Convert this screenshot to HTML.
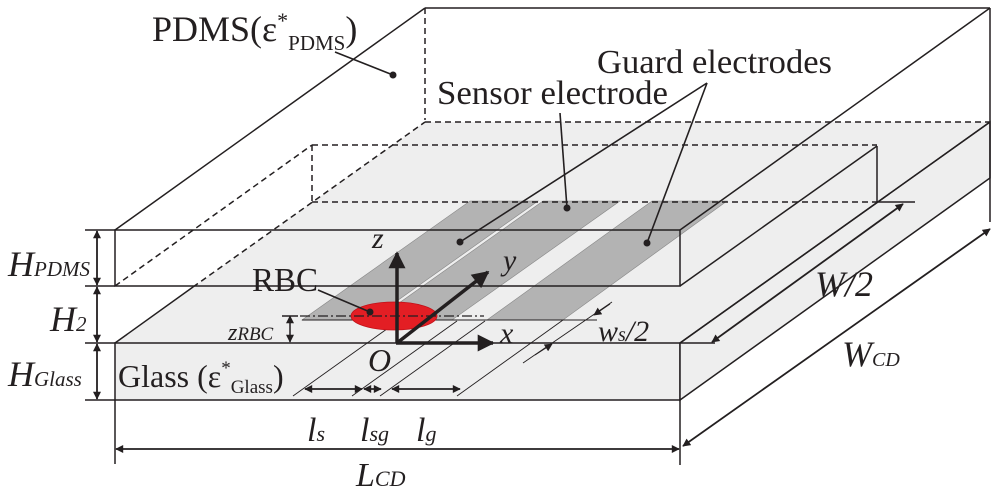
<!DOCTYPE html>
<html><head><meta charset="utf-8"><style>
html,body{margin:0;padding:0;background:#fff;}
svg{display:block;}
text{font-family:"Liberation Serif",serif;fill:#231f20;}
.i{font-style:italic;}
</style></head><body>
<svg width="1000" height="487" viewBox="0 0 1000 487" xmlns="http://www.w3.org/2000/svg">
<defs>
<marker id="a" viewBox="0 0 10 10" refX="9" refY="5" markerWidth="11" markerHeight="8" orient="auto-start-reverse" markerUnits="userSpaceOnUse"><path d="M0,0 L10,5 L0,10 z" fill="#231f20"/></marker>
<marker id="b" viewBox="0 0 10 10" refX="9" refY="5" markerWidth="20" markerHeight="17" orient="auto" markerUnits="userSpaceOnUse"><path d="M0,0 L10,5 L0,10 z" fill="#231f20"/></marker>
</defs>
<g stroke="#231f20" stroke-width="1.5" fill="none">
<polygon points="115,343 680,343 990,122 425,122" fill="#eeeeee" stroke="none"/>
<rect x="115" y="343" width="565" height="57" fill="#eeeeee"/>
<polygon points="680,343 990,122 990,178 680,400" fill="#eeeeee"/>
<polygon points="302,320 370,320 538,201 470,201" fill="#b3b3b3" stroke="#888" stroke-width="0.6"/>
<polygon points="375,320 452,320 620,201 543,201" fill="#b3b3b3" stroke="#888" stroke-width="0.6"/>
<polygon points="487,320 563,320 727,201 652,201" fill="#b3b3b3" stroke="#888" stroke-width="0.6"/>
<line x1="115" y1="343" x2="193" y2="287"/>
<line x1="193" y1="287" x2="425" y2="122" stroke-dasharray="6,4"/>
<line x1="425" y1="122" x2="990" y2="122" stroke-dasharray="6,4"/>
<line x1="115" y1="230" x2="425" y2="8"/>
<line x1="425" y1="8" x2="990" y2="8"/>
<line x1="425" y1="8" x2="425" y2="120" stroke-dasharray="6,4"/>
<line x1="990" y1="8" x2="990" y2="222"/>
<line x1="680" y1="230" x2="990" y2="8"/>
<rect x="115" y="230" width="565" height="56"/>
<line x1="115" y1="286" x2="312" y2="145" stroke-dasharray="6,4"/>
<line x1="312" y1="145" x2="877" y2="145" stroke-dasharray="6,4"/>
<line x1="312" y1="145" x2="312" y2="202" stroke-dasharray="6,4"/>
<line x1="312" y1="202" x2="877" y2="202" stroke-dasharray="6,4"/>
<line x1="680" y1="286" x2="877" y2="146"/>
<line x1="877" y1="146" x2="877" y2="202"/>
<line x1="877" y1="202" x2="915" y2="202"/>
<line x1="680" y1="343" x2="990" y2="122"/>
<line x1="680" y1="343" x2="715" y2="343"/>
<line x1="293" y1="396" x2="398" y2="321" stroke-width="0.9"/>
<line x1="352" y1="396" x2="457" y2="321" stroke-width="0.9"/>
<line x1="380" y1="396" x2="485" y2="321" stroke-width="0.9"/>
<line x1="457" y1="396" x2="563" y2="320" stroke-width="0.9"/>
<line x1="302" y1="320" x2="597" y2="320" stroke-width="0.9"/>
<line x1="523" y1="363" x2="612" y2="302" stroke-width="0.9"/>
<line x1="85" y1="230" x2="115" y2="230"/>
<line x1="85" y1="286" x2="115" y2="286"/>
<line x1="85" y1="343" x2="115" y2="343"/>
<line x1="85" y1="400" x2="115" y2="400"/>
<line x1="97" y1="231" x2="97" y2="285" stroke-width="1.8" marker-start="url(#a)" marker-end="url(#a)"/>
<line x1="97" y1="287" x2="97" y2="342" stroke-width="1.8" marker-start="url(#a)" marker-end="url(#a)"/>
<line x1="97" y1="344" x2="97" y2="399" stroke-width="1.8" marker-start="url(#a)" marker-end="url(#a)"/>
<line x1="290" y1="316" x2="290" y2="342" stroke-width="1.5" marker-start="url(#a)" marker-end="url(#a)"/>
<line x1="282" y1="316" x2="298" y2="316"/>
<line x1="115" y1="400" x2="115" y2="464"/>
<line x1="680" y1="400" x2="680" y2="465"/>
<line x1="116" y1="449" x2="679" y2="449" stroke-width="1.8" marker-start="url(#a)" marker-end="url(#a)"/>
<line x1="305" y1="389" x2="362" y2="389" stroke-width="1.8" marker-start="url(#a)" marker-end="url(#a)"/>
<line x1="364" y1="389" x2="381" y2="389" stroke-width="1.8" marker-start="url(#a)" marker-end="url(#a)"/>
<line x1="392" y1="389" x2="460" y2="389" stroke-width="1.8" marker-start="url(#a)" marker-end="url(#a)"/>
<line x1="712" y1="342" x2="903" y2="204" stroke-width="1.8" marker-start="url(#a)" marker-end="url(#a)"/>
<line x1="683" y1="446" x2="990" y2="229" stroke-width="1.8" marker-start="url(#a)" marker-end="url(#a)"/>
<line x1="535" y1="355" x2="552" y2="344" stroke-width="1" marker-end="url(#a)"/>
<line x1="610" y1="304" x2="594" y2="315" stroke-width="1" marker-end="url(#a)"/>
<ellipse cx="394" cy="316" rx="43" ry="14" fill="#e31e24" stroke="#c01018" stroke-width="0.8"/>
<line x1="300" y1="316" x2="484" y2="316" stroke-width="1.2" stroke-dasharray="10,3,2,3"/>
<line x1="397" y1="343" x2="397" y2="253" stroke-width="3.5" marker-end="url(#b)"/>
<line x1="396" y1="343" x2="493" y2="343" stroke-width="3.5" marker-end="url(#b)"/>
<line x1="397" y1="343" x2="488" y2="272" stroke-width="3.5" marker-end="url(#b)"/>
<line x1="335" y1="52" x2="393" y2="75" stroke-width="1.6"/>
<line x1="707" y1="83" x2="460" y2="242" stroke-width="1.6"/>
<line x1="707" y1="83" x2="647" y2="243" stroke-width="1.6"/>
<line x1="560" y1="113" x2="567" y2="208" stroke-width="1.6"/>
<line x1="318" y1="290" x2="370" y2="312" stroke-width="1.6"/>
</g>
<g fill="#231f20">
<circle cx="393" cy="75" r="3.5"/><circle cx="460" cy="242" r="3.5"/><circle cx="647" cy="243" r="3.5"/><circle cx="567" cy="208" r="3.5"/><circle cx="370" cy="312" r="3.5"/>
</g>
<text x="152" y="41" font-size="36">PDMS(ε<tspan font-size="22" dy="-13">*</tspan><tspan font-size="21" dy="22">PDMS</tspan><tspan dy="-9">)</tspan></text>
<text x="597" y="73" font-size="34" textLength="235" lengthAdjust="spacingAndGlyphs">Guard electrodes</text>
<text x="437" y="104" font-size="34" textLength="231" lengthAdjust="spacingAndGlyphs">Sensor electrode</text>
<text x="252" y="291" font-size="34" textLength="66" lengthAdjust="spacingAndGlyphs">RBC</text>
<text x="118" y="387" font-size="32">Glass (ε<tspan font-size="19" dy="-13">*</tspan><tspan font-size="19" dy="19">Glass</tspan><tspan dy="-6">)</tspan></text>
<text class="i" x="8" y="276" font-size="36">H<tspan font-size="21">PDMS</tspan></text>
<text class="i" x="50" y="331" font-size="36">H<tspan font-size="21">2</tspan></text>
<text class="i" x="8" y="386" font-size="36">H<tspan font-size="21">Glass</tspan></text>
<text class="i" x="228" y="340" font-size="24">z<tspan font-size="19">RBC</tspan></text>
<text class="i" x="372" y="248" font-size="30">z</text>
<text class="i" x="503" y="270" font-size="30">y</text>
<text class="i" x="500" y="343" font-size="30">x</text>
<text class="i" x="368" y="371" font-size="32">O</text>
<text class="i" x="598" y="341" font-size="30">w<tspan font-size="20">s</tspan>/2</text>
<text class="i" x="815" y="296" font-size="36">W/2</text>
<text class="i" x="842" y="366" font-size="36">W<tspan font-size="20">CD</tspan></text>
<text class="i" x="307" y="441" font-size="34">l<tspan font-size="22">s</tspan></text>
<text class="i" x="360" y="441" font-size="34">l<tspan font-size="22">sg</tspan></text>
<text class="i" x="416" y="441" font-size="34">l<tspan font-size="22">g</tspan></text>
<text class="i" x="356" y="486" font-size="34">L<tspan font-size="22">CD</tspan></text>
</svg>
</body></html>
